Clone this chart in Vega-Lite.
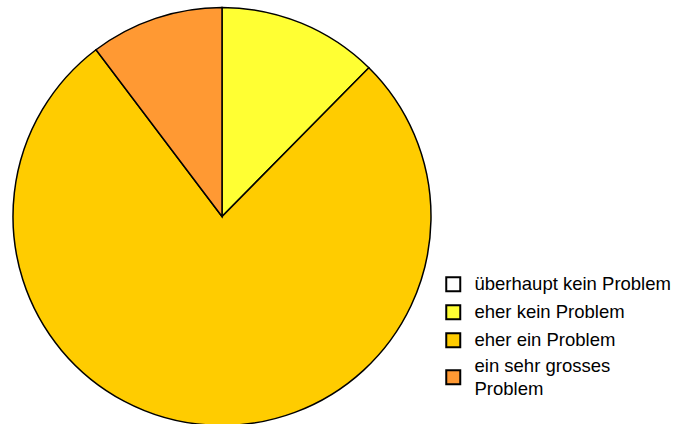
{
  "$schema": "https://vega.github.io/schema/vega-lite/v6.json",
  "width": 444,
  "height": 433,
  "padding": 0,
  "autosize": {"type": "pad"},
  "background": "white",
  "config": {"view": {"stroke": null}, "font": "Liberation Sans"},
  "data": {"values": [
    {"cat": "überhaupt kein Problem", "o": 1, "v": 0},
    {"cat": "eher kein Problem", "o": 2, "v": 12.4},
    {"cat": "eher ein Problem", "o": 3, "v": 77.3},
    {"cat": "ein sehr grosses Problem", "o": 4, "v": 10.3}
  ]},
  "mark": {"type": "arc", "outerRadius": 209, "stroke": "black", "strokeWidth": 1.5},
  "encoding": {
    "theta": {"field": "v", "type": "quantitative", "stack": true},
    "order": {"field": "o", "type": "quantitative"},
    "color": {
      "field": "cat", "type": "nominal",
      "scale": {
        "domain": ["überhaupt kein Problem", "eher kein Problem", "eher ein Problem", "ein sehr grosses Problem"],
        "range": ["#FFFFFF", "#FFFF33", "#FFCC00", "#FF9933"]
      },
      "legend": {
        "title": null,
        "orient": "none",
        "legendX": 444,
        "legendY": 275,
        "symbolType": "square",
        "symbolSize": 196,
        "symbolStrokeColor": "black",
        "symbolStrokeWidth": 2,
        "symbolOpacity": 1,
        "labelFontSize": 18.5,
        "labelFont": "Liberation Sans",
        "labelColor": "black",
        "labelOffset": 12,
        "labelLimit": 300,
        "rowPadding": 5,
        "labelExpr": "datum.label == 'ein sehr grosses Problem' ? ['ein sehr grosses', 'Problem'] : datum.label",
        "encode": {
          "labels": {"update": {
            "lineHeight": {"value": 23},
            "dy": {"signal": "datum.value == 'ein sehr grosses Problem' ? -11 : 0"}
          }}
        }
      }
    }
  }
}
